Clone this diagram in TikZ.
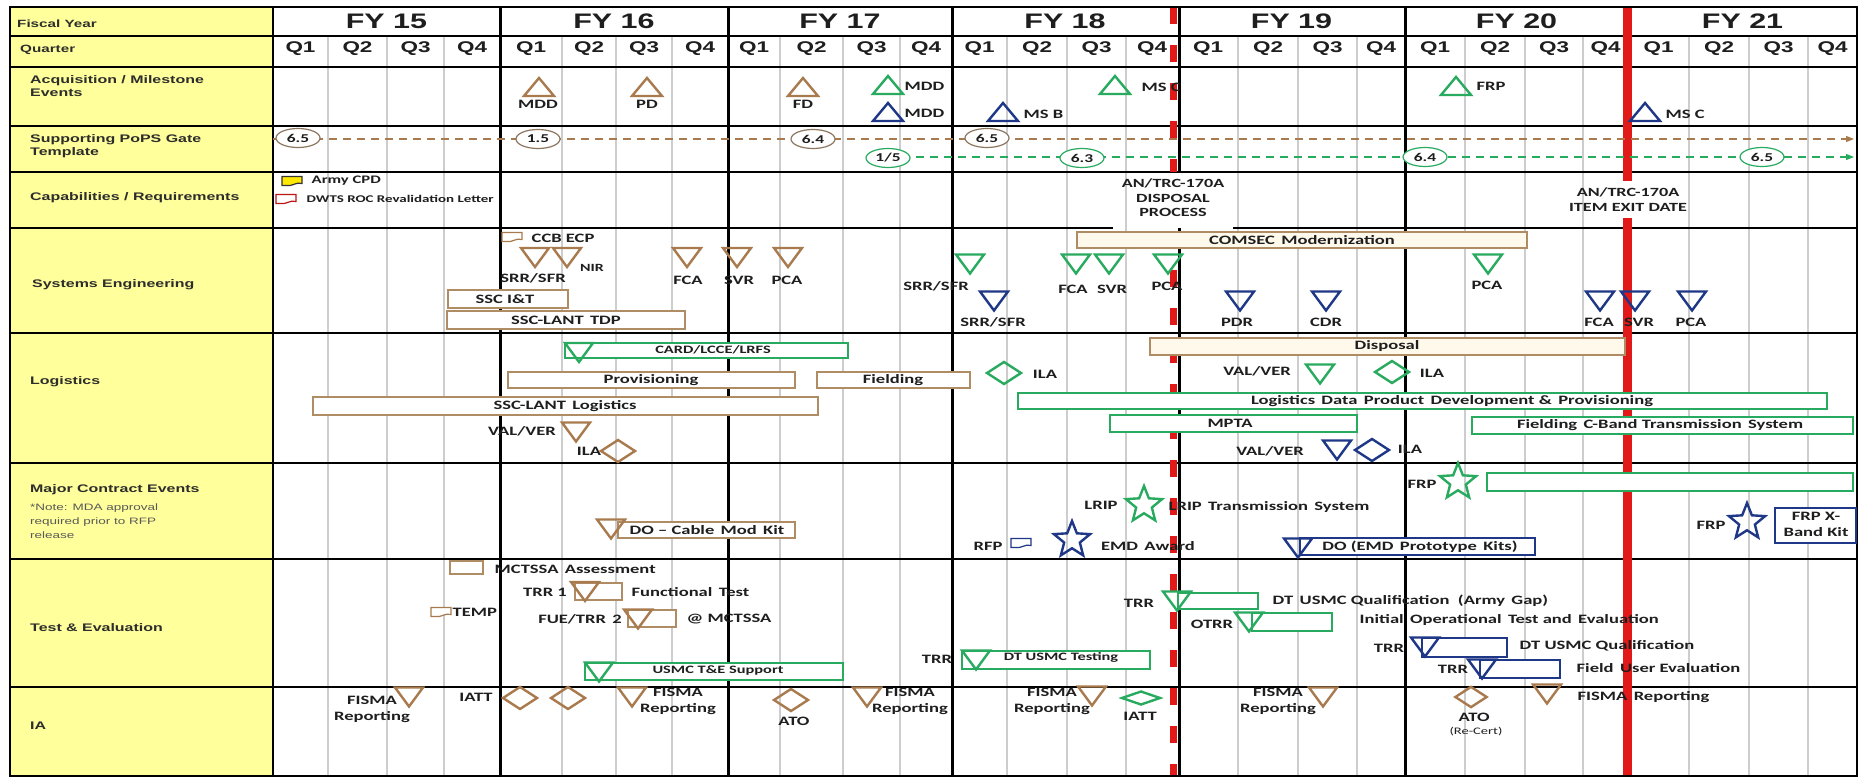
\documentclass[tikz,border=0pt]{standalone}
\usepackage{fontspec}
\setmainfont{Carlito}
\newfontfamily\hdrf[FakeStretch=1.45]{Liberation Sans}
\newfontfamily\calf[FakeStretch=1.45]{Carlito}
\usetikzlibrary{shapes.geometric,arrows.meta}
\definecolor{cbrown}{RGB}{168,122,78}
\definecolor{cbrownbox}{RGB}{175,140,100}
\definecolor{cbrownE}{RGB}{140,118,95}
\definecolor{cgreen}{RGB}{40,170,95}
\definecolor{cblue}{RGB}{30,55,135}
\definecolor{cyellow}{RGB}{255,255,155}
\definecolor{cred}{RGB}{225,25,25}
\definecolor{cgrid}{RGB}{205,205,205}
\definecolor{ctext}{RGB}{30,30,30}
\definecolor{cside}{RGB}{45,45,45}
\definecolor{ccream}{RGB}{255,249,236}
\tikzset{
  lbl/.style={font=\calf\bfseries\fontsize{12.8}{16}\selectfont, text=ctext, inner sep=0.5pt, align=center},
  sml/.style={font=\calf\bfseries\fontsize{11.3}{13}\selectfont, text=ctext, inner sep=0.5pt},
  side/.style={font=\hdrf\bfseries\fontsize{11}{13}\selectfont, text=cside, anchor=west, align=left, inner sep=0pt},
  fy/.style={font=\hdrf\bfseries\fontsize{21}{23}\selectfont, text=ctext, inner sep=0pt},
  ql/.style={font=\hdrf\bfseries\fontsize{15.5}{17}\selectfont, text=ctext, inner sep=0pt},
  qline/.style={cgrid, line width=1.4pt},
  rowline/.style={black, line width=1.3pt},
  yline/.style={black, line width=3pt},
  bbox/.style={draw=cbrownbox, line width=1.3pt, fill=white},
  cbox/.style={draw=cbrownbox, line width=1.3pt, fill=ccream},
  gbox/.style={draw=cgreen, line width=1.3pt, fill=white},
  ubox/.style={draw=cblue, line width=1.3pt, fill=white},
  B/.style={draw=cbrown}, G/.style={draw=cgreen}, U/.style={draw=cblue},
  utri/.pic={\draw[pic actions, line width=2.4pt] (0,-9)--(15,9)--(-15,9)--cycle;},
  dtri/.pic={\draw[pic actions, line width=2.4pt] (-14,-9.5)--(14,-9.5)--(0,9.5)--cycle;},
  diam/.pic={\draw[pic actions, line width=2.4pt] (-17,0)--(0,-11)--(17,0)--(0,11)--cycle;},
  fdiam/.pic={\draw[pic actions, line width=2.4pt] (-19,0)--(0,-6.5)--(19,0)--(0,6.5)--cycle;},
  docshape/.pic={\draw[pic actions, line width=1.2pt] (-10,-4.5)--(10,-4.5)--(10,2.5) .. controls (4,0.5) and (0,6) .. (-6,4.5) -- (-10,4.5) -- cycle;},
  starG/.style={star, star points=5, star point ratio=2.3, minimum size=38pt, inner sep=0pt, draw=cgreen, line width=2.4pt},
  starU/.style={star, star points=5, star point ratio=2.3, minimum size=38pt, inner sep=0pt, draw=cblue, line width=2.4pt},
  popsB/.style={ellipse, draw=cbrownE, line width=1.2pt, fill=white, minimum width=44pt, minimum height=19pt, inner sep=0pt, font=\calf\bfseries\fontsize{12}{13}\selectfont, text=ctext},
  popsG/.style={popsB, draw=cgreen}
}
\begin{document}
\begin{tikzpicture}[x=1pt,y=-1pt]
\useasboundingbox (0,0) rectangle (1862,778);
\fill[white] (0,0) rectangle (1862,778);
% left column
\fill[cyellow] (10,7) rectangle (273,776);
% quarter grid
\foreach \x in {328,387,444,562,616,672,780,843,900,1007,1067,1126,1238,1298,1357,1465,1525,1583,1689,1749,1808}
  \draw[qline] (\x,36) -- (\x,776);
% row lines
\foreach \y in {36,67,126,172,333,463,559,687}
  \draw[rowline] (10,\y) -- (1857,\y);
\draw[rowline] (10,228) -- (1113,228);
\draw[rowline] (1233,228) -- (1857,228);
% year lines
\draw[black, line width=2pt] (273,7) -- (273,776);
\foreach \x in {500,728,952,1405}
  \draw[yline] (\x,7) -- (\x,776);
\draw[cred, line width=7pt, dash pattern=on 17pt off 21pt] (1173.5,7) -- (1173.5,172);
\draw[cred, line width=7pt, dash pattern=on 17pt off 21pt] (1173.5,232) -- (1173.5,776);
\draw[yline] (1179,7) -- (1179,172);
\draw[yline] (1179,228) -- (1179,776);
\draw[cred, line width=9pt] (1627.5,7) -- (1627.5,181);
\draw[cred, line width=9pt] (1627.5,218) -- (1627.5,776);
% border
\draw[black, line width=1.6pt] (10,7) rectangle (1857,776);

% header
\node[side, font=\hdrf\bfseries\fontsize{10.5}{12}\selectfont] (hfy) at (17,24) {Fiscal Year};
\node[side, font=\hdrf\bfseries\fontsize{10.5}{12}\selectfont] (hq) at (20,50) {Quarter};
\foreach \x/\t in {386.5/15, 614/16, 840/17, 1065/18, 1291.5/19, 1516.5/20, 1742.5/21}
  \node[fy] (fy\t) at (\x,21) {FY \t};
\foreach \x/\q [count=\i] in {300.5/1,357.5/2,415.5/3,472/4,531/1,589/2,644/3,700/4,754/1,811.5/2,871.5/3,926/4,979.5/1,1037/2,1096.5/3,1152/4,1208/1,1268/2,1327.5/3,1381/4,1435/1,1495/2,1554/3,1605.5/4,1658.5/1,1719/2,1778.5/3,1832.5/4}
  \node[ql] (q\i) at (\x,49) {Q\q};

% side labels
\node[side] (sacq) at (30,86.5) {Acquisition / Milestone\\Events};
\node[side] (spops) at (30,146.5) {Supporting PoPS Gate\\Template};
\node[side] (scap) at (30,198) {Capabilities / Requirements};
\node[side] (sse) at (32,285) {Systems Engineering};
\node[side] (slog) at (30,382) {Logistics};
\node[side] (smce) at (30,490) {Major Contract Events};
\node[side, font=\hdrf\fontsize{9.3}{14}\selectfont, text=black!65] (snote) at (30,521) {*Note: MDA approval\\required prior to RFP\\release};
\node[side] (ste) at (30,628) {Test \& Evaluation};
\node[side] (sia) at (30,726) {IA};

% ===== Acquisition / Milestone =====
\pic[B] at (539,87) {utri}; \node[lbl] (a1) at (538,104) {MDD};
\pic[B] at (647,87) {utri}; \node[lbl] (a2) at (647,104) {PD};
\pic[B] at (803,87) {utri}; \node[lbl] (a3) at (803,104) {FD};
\pic[G] at (888,85) {utri}; \node[lbl, anchor=west] (a4) at (904,86) {MDD};
\pic[U] at (888,112) {utri}; \node[lbl, anchor=west] (a5) at (904,113) {MDD};
\pic[G] at (1115,85) {utri}; \node[lbl, anchor=west] (a6) at (1141,87) {MS C};
\pic[U] at (1003,112) {utri}; \node[lbl, anchor=west] (a7) at (1023,114) {MS B};
\pic[G] at (1456,86) {utri}; \node[lbl, anchor=west] (a8) at (1476,86) {FRP};
\pic[U] at (1645,112) {utri}; \node[lbl, anchor=west] (a9) at (1665,114) {MS C};

% ===== PoPS =====
\draw[cbrown, line width=1.1pt, dash pattern=on 8pt off 6pt, -{Triangle[length=8pt,width=6pt]}] (273,139) -- (1854,139);
\draw[cgreen, line width=1.1pt, dash pattern=on 8pt off 6pt, -{Triangle[length=8pt,width=6pt]}] (888,157) -- (1854,157);
\node[popsB] (p1) at (298,138) {6.5};
\node[popsB] (p2) at (538,139) {1.5};
\node[popsB] (p3) at (813,139) {6.4};
\node[popsB] (p4) at (987,138) {6.5};
\node[popsG] (p5) at (888,158) {1/5};
\node[popsG] (p6) at (1082,158) {6.3};
\node[popsG] (p7) at (1425,157) {6.4};
\node[popsG] (p8) at (1762,157) {6.5};

% ===== Capabilities =====
\pic[draw=black!80, fill=yellow!90!orange] at (292,181) {docshape};
\node[lbl, anchor=west, font=\calf\bfseries\fontsize{11.5}{13}\selectfont] (c1) at (311,181) {Army CPD};
\pic[draw=cred!85!black, fill=white] at (286,199) {docshape};
\node[lbl, anchor=west, font=\calf\bfseries\fontsize{10.3}{12}\selectfont] (c2) at (306,199) {DWTS ROC Revalidation Letter};
\node[lbl, font=\calf\bfseries\fontsize{12.5}{14.5}\selectfont] (c3) at (1173,198) {AN/TRC-170A\\DISPOSAL\\PROCESS};
\node[lbl, font=\calf\bfseries\fontsize{12.5}{15}\selectfont] (c4) at (1628,199.5) {AN/TRC-170A\\ITEM\,\,EXIT\,\,DATE};

% ===== Systems Engineering =====
\pic[draw=cbrown, fill=white] at (512,237) {docshape};
\node[lbl, anchor=west] (e1) at (531,238) {CCB ECP};
\pic[B] at (535,257.5) {dtri};
\pic[B] at (567,257.5) {dtri};
\node[lbl, font=\calf\bfseries\fontsize{11}{12}\selectfont] (e2) at (592,268) {NIR};
\node[lbl] (e3) at (533,278) {SRR/SFR};
\pic[B] at (687,257.5) {dtri}; \node[lbl] (e4) at (688,280) {FCA};
\pic[B] at (737,257.5) {dtri}; \node[lbl] (e5) at (739,280) {SVR};
\pic[B] at (788,257.5) {dtri}; \node[lbl] (e6) at (787,280) {PCA};
\draw[bbox] (448,290) rectangle (568,308); \node[lbl] (e7) at (505,299) {SSC I\&T};
\draw[bbox] (447,311) rectangle (685,329); \node[lbl] (e8) at (566,320) {SSC-LANT\, TDP};
\pic[G] at (970,264) {dtri}; \node[lbl] (e9) at (936,286) {SRR/SFR};
\pic[U] at (994,301) {dtri}; \node[lbl] (e10) at (993,322) {SRR/SFR};
\pic[G] at (1076,264) {dtri}; \node[lbl] (e11) at (1073,289) {FCA};
\pic[G] at (1109,264) {dtri}; \node[lbl] (e12) at (1112,289) {SVR};
\pic[G] at (1168,264) {dtri}; \node[lbl] (e13) at (1167,286) {PCA};
\draw[cbox] (1077,232) rectangle (1527,248); \node[lbl] (e14) at (1302,240) {COMSEC\, Modernization};
\pic[G] at (1488,264) {dtri}; \node[lbl] (e15) at (1487,285) {PCA};
\pic[U] at (1240,301) {dtri}; \node[lbl] (e16) at (1237,322) {PDR};
\pic[U] at (1326,301) {dtri}; \node[lbl] (e17) at (1326,322) {CDR};
\pic[U] at (1600,301) {dtri}; \node[lbl] (e18) at (1599,322) {FCA};
\pic[U] at (1635,301) {dtri}; \node[lbl] (e19) at (1639,322) {SVR};
\pic[U] at (1692,301) {dtri}; \node[lbl] (e20) at (1691,322) {PCA};

% ===== Logistics =====
\draw[gbox] (565,343) rectangle (848,358); \node[sml] (l1) at (713,350) {CARD/LCCE/LRFS};
\pic[G] at (579,352.5) {dtri};
\draw[bbox] (508,372) rectangle (795,388); \node[lbl] (l2) at (651,380) {Provisioning};
\draw[bbox] (817,372) rectangle (970,388); \node[lbl] (l3) at (893,380) {Fielding};
\draw[bbox] (313,397) rectangle (818,415); \node[lbl] (l4) at (565,406) {SSC-LANT\, Logistics};
\pic[B] at (576,432) {dtri}; \node[lbl] (l5) at (522,431) {VAL/VER};
\pic[B] at (618,451) {diam}; \node[lbl] (l6) at (589,451) {ILA};
\pic[G] at (1004,373) {diam}; \node[lbl] (l7) at (1045,374) {ILA};
\draw[cbox] (1150,338) rectangle (1625,355); \node[lbl] (l8) at (1387,346) {Disposal};
\pic[G] at (1320,374) {dtri}; \node[lbl] (l9) at (1257,371) {VAL/VER};
\pic[G] at (1392,372) {diam}; \node[lbl] (l10) at (1432,373) {ILA};
\draw[gbox] (1018,393) rectangle (1827,409); \node[lbl] (l11) at (1452,401) {Logistics\, Data\, Product\, Development \&\, Provisioning};
\draw[gbox] (1110,415) rectangle (1357,432); \node[lbl] (l12) at (1230,423) {MPTA};
\draw[gbox] (1472,417) rectangle (1853,434); \node[lbl] (l13) at (1660,425) {Fielding\, C-Band Transmission\, System};
\pic[U] at (1337,450) {dtri}; \node[lbl] (l14) at (1270,451) {VAL/VER};
\pic[U] at (1372,450) {diam}; \node[lbl] (l15) at (1410,449) {ILA};

% ===== Major Contract Events =====
\node[starG] (m1) at (1144,505) {}; \node[lbl] (m2) at (1101,505) {LRIP};
\node[lbl, anchor=west] (m3) at (1168,507) {LRIP\, Transmission\, System};
\draw[gbox] (1487,473) rectangle (1853,491);
\node[starG] (m4) at (1458,482) {}; \node[lbl] (m5) at (1422,484) {FRP};
\draw[ubox] (1775,508) rectangle (1856,543); \node[lbl] (m6) at (1816,524) {FRP X-\\Band Kit};
\node[starU] (m7) at (1747,522) {}; \node[lbl] (m8) at (1711,525) {FRP};
\draw[bbox] (618,522) rectangle (795,538); \node[lbl] (m9) at (707,530) {DO \textendash\ Cable\, Mod\, Kit};
\pic[B] at (611,529) {dtri};
\pic[draw=cblue, fill=white] at (1021,543) {docshape}; \node[lbl] (m10) at (988,546) {RFP};
\node[starU] (m11) at (1072,540) {}; \node[lbl] (m12) at (1148,546) {EMD\, Award};
\draw[ubox] (1300,538) rectangle (1535,555); \node[lbl] (m13) at (1420,547) {DO (EMD\, Prototype\, Kits)};
\pic[U] at (1298,548) {dtri};

% ===== Test & Evaluation =====
\draw[bbox] (450,561) rectangle (483,574); \node[lbl, anchor=west] (t1) at (494,569) {MCTSSA\, Assessment};
\pic[draw=cbrown, fill=white] at (441,612) {docshape}; \node[lbl, anchor=west] (t2) at (452,612) {TEMP};
\draw[bbox] (575,583) rectangle (622,600); \pic[B] at (585,591.5) {dtri};
\node[lbl] (t3) at (545,592) {TRR 1}; \node[lbl, anchor=west] (t4) at (631,592) {Functional\, Test};
\draw[bbox] (628,610) rectangle (676,627); \pic[B] at (638,619) {dtri};
\node[lbl] (t5) at (580,619) {FUE/TRR\, 2}; \node[lbl, anchor=west] (t6) at (686,619) {@ MCTSSA};
\draw[gbox] (585,663) rectangle (843,680); \pic[G] at (599,672) {dtri};
\node[sml] (t7) at (718,670) {USMC T\&E Support};
\draw[gbox] (962,651) rectangle (1150,669); \pic[G] at (976,660) {dtri};
\node[sml] (t8) at (1061,657) {DT USMC Testing}; \node[lbl] (t9) at (937,659) {TRR};
\draw[gbox] (1178,593) rectangle (1258,609); \pic[G] at (1177,601) {dtri};
\node[lbl] (t10) at (1139,603) {TRR}; \node[lbl, anchor=west] (t11) at (1272,601) {DT\, USMC Qualification\,\, (Army\, Gap)};
\draw[gbox] (1252,613) rectangle (1332,631); \pic[G] at (1249,622) {dtri};
\node[lbl] (t12) at (1212,624) {OTRR}; \node[lbl, anchor=west] (t13) at (1359,620) {Initial\, Operational\, Test and\, Evaluation};
\draw[ubox] (1422,638) rectangle (1507,657); \pic[U] at (1425,647) {dtri};
\node[lbl] (t14) at (1389,648) {TRR}; \node[lbl, anchor=west] (t15) at (1519,646) {DT USMC Qualification};
\draw[ubox] (1480,660) rectangle (1560,678); \pic[U] at (1482,669) {dtri};
\node[lbl] (t16) at (1453,669) {TRR}; \node[lbl, anchor=west] (t17) at (1576,668) {Field\, User Evaluation};

% ===== IA =====
\pic[B] at (409,697) {dtri}; \node[lbl] (i1) at (372,709) {FISMA\\Reporting};
\node[lbl] (i2) at (476,697) {IATT};
\pic[B] at (520,698) {diam}; \pic[B] at (568,698) {diam};
\pic[B] at (632,697) {dtri}; \node[lbl] (i3) at (678,701) {FISMA\\Reporting};
\pic[B] at (791,700) {diam}; \node[lbl] (i4) at (794,721) {ATO};
\pic[B] at (867,697) {dtri}; \node[lbl] (i5) at (910,701) {FISMA\\Reporting};
\pic[B] at (1092,696) {dtri}; \node[lbl] (i6) at (1052,701) {FISMA\\Reporting};
\pic[G] at (1141,698) {fdiam}; \node[lbl] (i7) at (1140,716) {IATT};
\pic[B] at (1323,697) {dtri}; \node[lbl] (i8) at (1278,701) {FISMA\\Reporting};
\pic[B, scale=0.92] at (1471,697) {diam}; \node[lbl] (i9) at (1474,717) {ATO};
\node[lbl, font=\calf\fontsize{10}{11}\selectfont] (i10) at (1476,732) {(Re-Cert)};
\pic[B] at (1547,694) {dtri}; \node[lbl, anchor=west] (i11) at (1577,697) {FISMA\, Reporting};
\end{tikzpicture}
\end{document}
